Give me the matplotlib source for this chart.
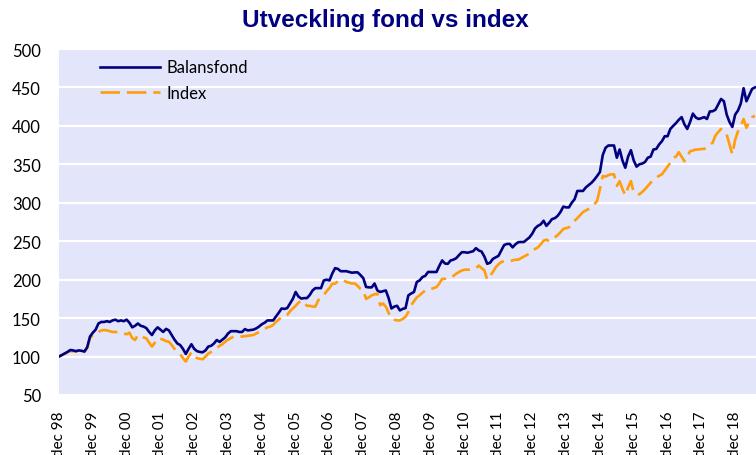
import numpy as np
import matplotlib
matplotlib.use("Agg")
import matplotlib.pyplot as plt

title = "Utveckling fond vs index"
series_names = ["Balansfond", "Index"]
tick_labels = ["dec 98", "dec 99", "dec 00", "dec 01", "dec 02", "dec 03", "dec 04",
               "dec 05", "dec 06", "dec 07", "dec 08", "dec 09", "dec 10", "dec 11",
               "dec 12", "dec 13", "dec 14", "dec 15", "dec 16", "dec 17", "dec 18"]
yticks = [50, 100, 150, 200, 250, 300, 350, 400, 450, 500]

balansfond = [
    100, 102, 104, 106, 108.5, 108, 107, 108, 107.5, 106.5, 112, 126,
    131, 135, 143, 145, 145, 146, 145, 147, 148, 146, 147, 146,
    148, 144, 138, 140, 143, 140, 139, 137, 132, 128, 134, 138,
    135, 132, 136, 134, 128, 122, 117, 115, 110, 103.4, 110, 116,
    110, 107, 106, 105.5, 108, 113, 114, 117, 121.5, 119, 122, 125,
    130, 133, 133, 133, 132, 132, 135.7, 134, 134.5, 135, 136.6, 139,
    142, 144, 147, 147, 147, 152, 157, 162.5, 162, 163, 169, 175,
    184, 178, 175.4, 176, 176, 180, 186, 189, 189, 189, 199, 200,
    199, 208, 215, 214, 211, 211, 211, 210, 209, 209.5, 209.5, 206,
    202, 190.5, 190, 190, 195, 186, 184, 185, 186, 176, 162.5, 165,
    166, 160, 162, 163, 179.6, 182, 184, 197, 199, 203.4, 205, 210,
    210, 210, 210, 218, 225, 221, 220.6, 225, 226, 228, 232, 235.7,
    235.7, 235, 236, 237, 241, 238, 236.5, 230, 220.6, 222, 227, 229,
    231, 238, 245, 246.5, 246.5, 242, 246, 248.7, 249, 249, 252, 255,
    260, 266.8, 270, 272, 276.6, 270, 274, 278.8, 280, 283, 288, 295,
    294, 294, 300, 304.6, 315.4, 315.4, 315.4, 320, 323, 326, 330, 334.8,
    340, 362, 371.5, 374.5, 374.5, 374.5, 358.6, 369.3, 355, 345.6, 360, 368.4,
    355, 347, 350, 351, 353, 358.6, 360, 369.3, 370, 375.8, 380, 386.5,
    386.5, 396, 400, 403.6, 408, 411.4, 402, 396, 405, 416, 411, 409,
    410, 411.4, 409, 418.8, 419, 421, 428, 435, 432, 414.6, 405, 398.6,
    414.6, 420, 429, 449, 432, 440, 448, 450,
]

index = [
    100, 101.5, 103.5, 105.5, 107, 107, 106.5, 107, 107, 106, 111, 124,
    128, 131, 132, 134, 134.5, 134, 133, 132, 132, 131.5, 131.5, 130,
    129, 131, 124, 121.5, 128, 127, 125, 123.6, 118, 113, 118, 123.6,
    123, 122, 120, 119.4, 115, 110, 106.5, 103, 98, 93.5, 100, 105.5,
    100, 98, 97, 96.5, 100, 104, 106, 108.5, 111, 114, 116, 119.4,
    122, 124, 126, 126, 126, 126, 126.5, 127, 127.5, 128, 130, 132,
    134.5, 136, 138, 139, 141, 145, 148, 151.7, 152, 154, 159, 162.5,
    166, 170, 173, 170, 166, 166, 165, 165, 173, 177.6, 180, 185,
    189, 194.8, 194.8, 198, 200, 199, 197, 196, 195, 195, 192, 188,
    186, 175, 177, 179.6, 181, 181.8, 166.7, 169, 165, 157, 149.5, 148,
    147, 147, 149, 151.7, 158, 166.7, 172, 177, 179.6, 183, 186, 188,
    188, 189, 190.5, 195, 201, 201, 202, 202, 205, 207.7, 210, 212,
    213, 213, 213, 213, 215, 218.4, 215, 212, 200, 205, 210, 216,
    220, 223, 224, 224, 224, 225, 226, 226, 228, 230, 232, 234,
    238, 240, 242, 246, 250.7, 252, 250, 252, 255, 258, 261.6, 266,
    267, 268, 272, 276.6, 280, 284, 288, 290, 292, 294, 298, 302.5,
    318, 334.8, 334, 336, 337, 337, 322, 328, 318, 309.8, 320, 328.3,
    313.3, 312, 311, 314, 317.6, 321.8, 326, 330.5, 333, 335, 337, 342,
    347, 352, 358.6, 360, 365.8, 360, 354, 360, 367, 368, 369.3, 369.3,
    370, 370, 372, 376, 378, 387.4, 392, 396, 392, 388.7, 375.8, 362.8,
    382, 392.8, 400, 409, 397.4, 405, 411.4, 413,
]

plt.rcParams['font.family'] = ['Lato', 'DejaVu Sans']
plt.rcParams['lines.scale_dashes'] = False

fig = plt.figure(figsize=(7.56, 4.56), dpi=100)
ax = fig.add_axes([59/756, 1 - 396/456, 1 - 59/756, (396 - 50)/456])
ax.set_facecolor('#E3E5FA')

months = np.arange(len(balansfond))
ax.plot(months, balansfond, color='#000080', lw=1.9, label=series_names[0], zorder=3)
ax.plot(np.arange(len(index)), index, color='#FF9E0A', lw=1.9, dashes=(14, 5),
        label=series_names[1], zorder=2)

ax.set_xlim(0, 247.4)
ax.set_ylim(50, 500)
ax.set_yticks(yticks)
ax.set_xticks(np.arange(len(tick_labels)) * 12)
ax.set_xticklabels(tick_labels, rotation=90, fontsize=11, va='top')
ax.tick_params(axis='y', length=0, pad=13, labelsize=12)
ax.tick_params(axis='x', length=0, pad=11)
ax.grid(axis='y', color='white', lw=1.6)
ax.set_axisbelow(True)
for s in ax.spines.values():
    s.set_visible(False)

ax.legend(loc='upper left', bbox_to_anchor=(41/697, 0.97), frameon=False,
          fontsize=12, handlelength=3.6, handletextpad=0.4, labelspacing=0.55,
          borderaxespad=0, borderpad=0)

fig.text(385/756, 1 - 21/456, title, ha='center', va='center', fontsize=17.5,
         fontweight='bold', color='#000080', family='Liberation Sans')

fig.savefig('out.png', dpi=100)
